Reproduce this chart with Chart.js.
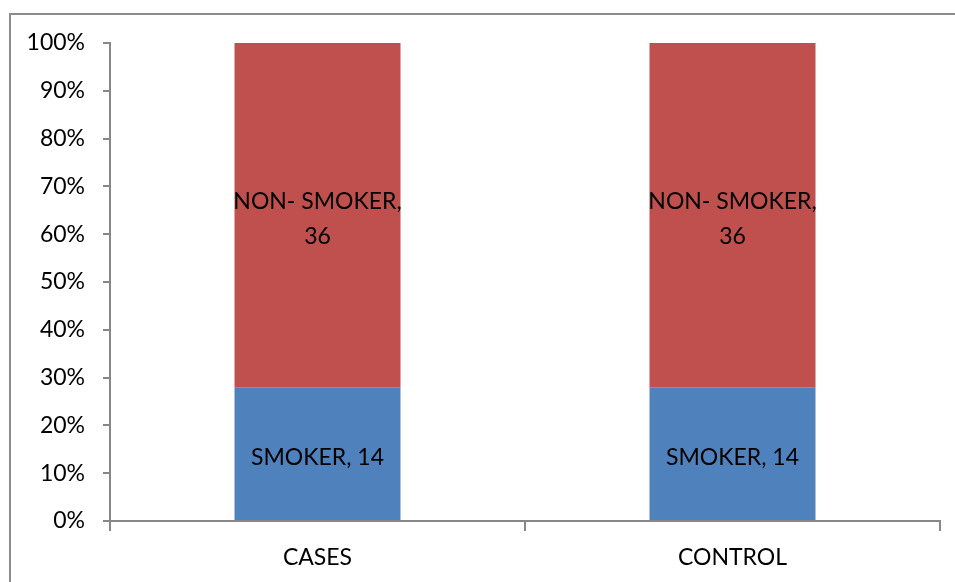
<!DOCTYPE html>
<html>
<head>
<meta charset="utf-8">
<script src="https://cdn.jsdelivr.net/npm/chart.js@4/dist/chart.umd.min.js"></script>
<style>
  html, body { margin: 0; padding: 0; background: #fff; }
  #wrap { width: 955px; height: 582px; position: relative; }
</style>
</head>
<body>
<div id="wrap"><canvas id="c" width="955" height="582"></canvas></div>
<script>
// Groups and counts per smoking status
const categories = ['CASES', 'CONTROL'];
const smoker = [14, 14];
const nonSmoker = [36, 36];
const seriesNames = ['SMOKER', 'NON- SMOKER'];
const yTickValues = [0, 10, 20, 30, 40, 50, 60, 70, 80, 90, 100];

const FONT = 'Lato, "Open Sans", sans-serif';
const AXIS_GREY = '#878787';

// 100% stacking: share of each group's total
const totals = categories.map((_, i) => smoker[i] + nonSmoker[i]);
const pct = arr => arr.map((v, i) => v / totals[i] * 100);
const rawCounts = [smoker, nonSmoker];

// Outer frame around the chart
const framePlugin = {
  id: 'frame',
  beforeDraw(chart) {
    const ctx = chart.ctx;
    ctx.save();
    ctx.strokeStyle = '#8c8c8c';
    ctx.lineWidth = 2;
    ctx.beginPath();
    ctx.moveTo(10, 600);
    ctx.lineTo(10, 14);
    ctx.lineTo(970, 14);
    ctx.stroke();
    ctx.restore();
  }
};

// Category labels inside each segment: "NAME, count"
const segmentLabels = {
  id: 'segmentLabels',
  afterDatasetsDraw(chart) {
    const ctx = chart.ctx;
    ctx.save();
    ctx.fillStyle = '#000';
    ctx.font = '23px ' + FONT;
    ctx.textAlign = 'center';
    ctx.textBaseline = 'middle';
    chart.data.datasets.forEach((ds, di) => {
      const meta = chart.getDatasetMeta(di);
      meta.data.forEach((bar, i) => {
        const full = seriesNames[di] + ', ' + rawCounts[di][i];
        const cx = bar.x;
        const cy = (bar.y + bar.base) / 2 + 4;
        // put the count on its own line when the text is wider than the bar
        const lines = ctx.measureText(full).width > bar.width
          ? [seriesNames[di] + ',', String(rawCounts[di][i])]
          : [full];
        const lh = 35;
        const y0 = cy - (lines.length - 1) * lh / 2;
        lines.forEach((ln, k) => ctx.fillText(ln, cx, y0 + k * lh));
      });
    });
    ctx.restore();
  }
};

new Chart(document.getElementById('c'), {
  type: 'bar',
  data: {
    labels: categories,
    datasets: [
      { label: seriesNames[0], data: pct(smoker), backgroundColor: '#4F81BD',
        barPercentage: 1, categoryPercentage: 0.4 },
      { label: seriesNames[1], data: pct(nonSmoker), backgroundColor: '#C0504D',
        barPercentage: 1, categoryPercentage: 0.4 }
    ]
  },
  options: {
    responsive: false,
    animation: false,
    layout: { padding: { left: 0, top: 43, right: 15, bottom: 0 } },
    plugins: { legend: { display: false }, tooltip: { enabled: false } },
    scales: {
      x: {
        stacked: true,
        grid: { display: true, offset: true, drawOnChartArea: false, drawTicks: true,
                tickLength: 10, color: AXIS_GREY, lineWidth: 2 },
        border: { display: true, color: AXIS_GREY, width: 2 },
        ticks: { color: '#000', font: { family: FONT, size: 23 }, padding: 13 },
        afterFit(s) { s.height = 61; }
      },
      y: {
        stacked: true,
        min: 0, max: 100,
        afterBuildTicks(s) { s.ticks = yTickValues.map(v => ({ value: v })); },
        grid: { display: true, drawOnChartArea: false, drawTicks: true,
                tickLength: 7, color: AXIS_GREY, lineWidth: 2 },
        border: { display: true, color: AXIS_GREY, width: 2 },
        ticks: { color: '#000', font: { family: FONT, size: 23 }, padding: 18,
                 callback: v => v + '%' },
        afterFit(s) { s.width = 110; }
      }
    }
  },
  plugins: [framePlugin, segmentLabels]
});
</script>
</body>
</html>
